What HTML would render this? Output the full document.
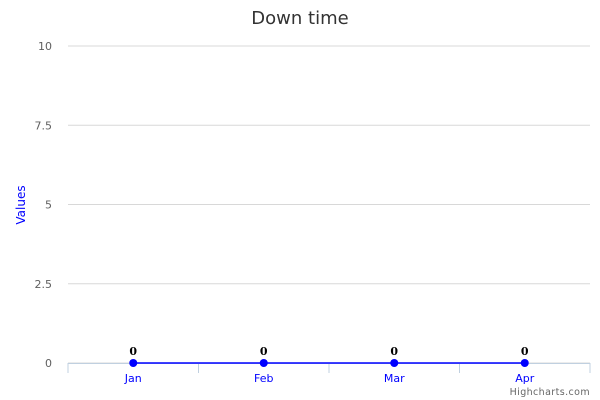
<!DOCTYPE html>
<html><head><meta charset="utf-8"><style>
body{margin:0;background:#fff}
svg{display:block;font-family:"DejaVu Sans","Liberation Sans",sans-serif}
</style></head><body>
<svg id="c" width="600" height="400">
<text x="300" y="24" text-anchor="middle" font-size="18" fill="#333">Down time</text>
<text x="0" y="0" transform="translate(25,205) rotate(-90)" text-anchor="middle" font-size="12" fill="#0000ff">Values</text>
<g id="grid"></g><g id="marks"></g>
<text x="590" y="395" text-anchor="end" font-size="9.5" letter-spacing="0.4" fill="#666">Highcharts.com</text>
</svg>
<script>
const categories=["Jan","Feb","Mar","Apr"];
const values=[0,0,0,0];
const yTicks=[0,2.5,5,7.5,10];
const yTickLabels=["0","2.5","5","7.5","10"];
const NS="http://www.w3.org/2000/svg";
const L=68,R=590,T=46,B=363,yMax=10;
const bw=(R-L)/categories.length;
const x=i=>L+bw*(i+0.5);
const y=v=>B-(v/yMax)*(B-T);
function mk(p,t,a){const e=document.createElementNS(NS,t);for(const k in a)e.setAttribute(k,a[k]);p.appendChild(e);return e;}
const g=document.getElementById('grid'),m=document.getElementById('marks');
yTicks.forEach((v,i)=>{
 const ln=mk(g,'line',{x1:L,x2:R,y1:y(v),y2:y(v),stroke:'#d8d8d8','stroke-width':1});
 
 
 const t=mk(g,'text',{x:52,y:y(v)+4,'text-anchor':'end','font-size':11,fill:'#606060'});t.textContent=yTickLabels[i];
 
 
});
const ax=mk(g,'line',{x1:L,x2:R,y1:B+0.5,y2:B+0.5,stroke:'#c0d0e0'});


for(let i=0;i<=categories.length;i++){
 const tk=mk(g,'line',{x1:L+bw*i,x2:L+bw*i,y1:B,y2:B+10,stroke:'#c0d0e0'});
 
 
}
categories.forEach((c,i)=>{
 const t=mk(g,'text',{x:x(i),y:B+19,'text-anchor':'middle','font-size':11,fill:'#0000ff'});t.textContent=c;
 
 
});
const pl=mk(m,'polyline',{points:values.map((v,i)=>x(i)+','+y(v)).join(' '),fill:'none',stroke:'#0000ff','stroke-width':1.5});


values.forEach((v,i)=>{
 const p=mk(m,'circle',{cx:x(i),cy:y(v),r:4,fill:'#0000ff'});
 
 
 const t=mk(m,'text',{x:x(i),y:y(v)-8,'text-anchor':'middle','font-size':11,'font-weight':'bold','font-family':'"DejaVu Serif","Liberation Serif",serif',fill:'#000'});t.textContent=v;
 
 
});
</script>
</body></html>
